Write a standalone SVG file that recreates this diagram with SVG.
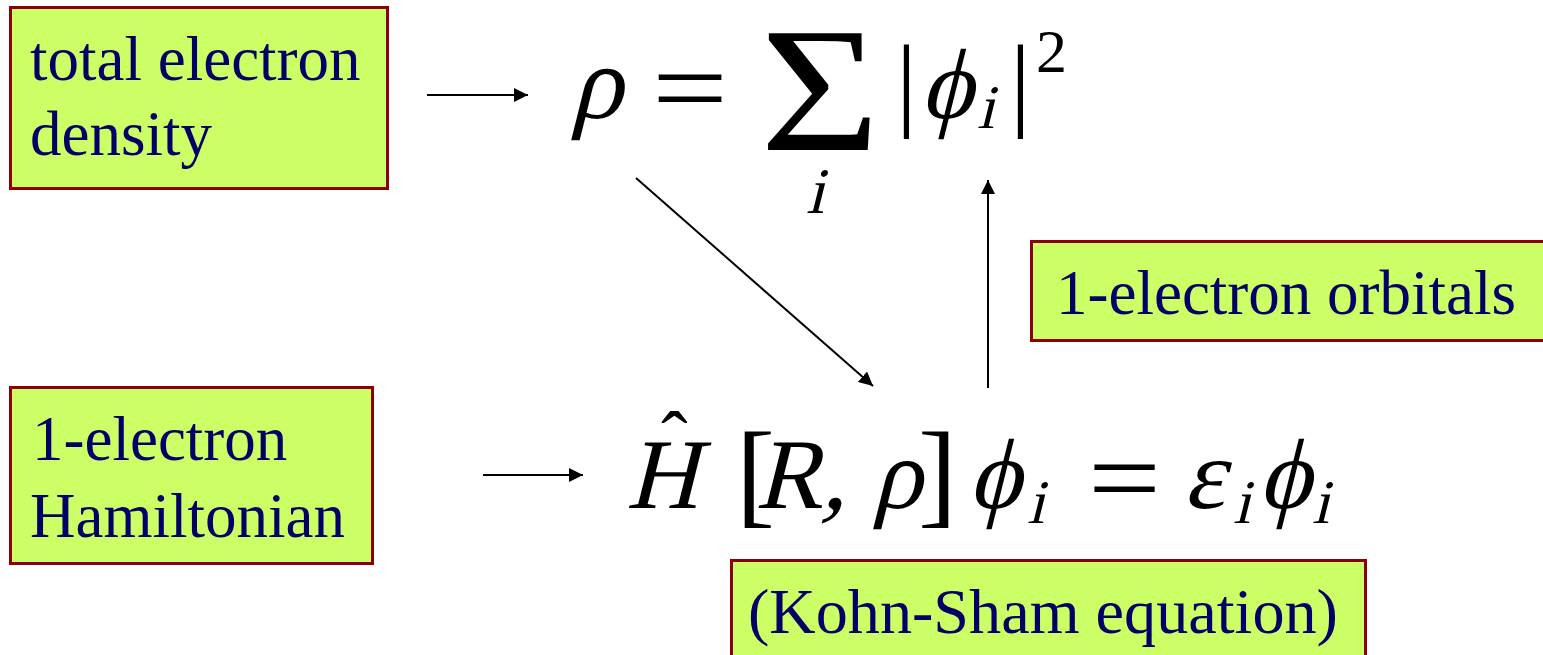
<svg xmlns="http://www.w3.org/2000/svg" width="1543" height="655" viewBox="0 0 1543 655">
<style>
.box{fill:#CCFF66;stroke:#8B0000;stroke-width:3}
.lbl{font-family:"Liberation Serif","Times New Roman",serif;font-size:63px;fill:#000066}
.m{font-family:"Liberation Serif","Times New Roman",serif;fill:#000}
.conn{stroke:#000;stroke-width:2;fill:none}
</style>
<defs>
<marker id="ah" viewBox="0 0 10 10" refX="10" refY="5" markerWidth="7" markerHeight="7" markerUnits="strokeWidth" orient="auto">
<path d="M0,0 L10,5 L0,10 Z" fill="#000"/>
</marker>
</defs>
<rect width="1543" height="655" fill="#fff"/>
<g id="connectors">
<line class="conn" x1="427" y1="95" x2="528" y2="95" marker-end="url(#ah)"/>
<line class="conn" x1="483" y1="475" x2="583" y2="475" marker-end="url(#ah)"/>
<line class="conn" x1="636" y1="178" x2="873" y2="386" marker-end="url(#ah)"/>
<line class="conn" x1="988" y1="388" x2="988" y2="180" marker-end="url(#ah)"/>
</g>
<g id="node-density">
<rect class="box" x="10.5" y="7.5" width="377" height="181"/>
<text class="lbl" x="30" y="80">total electron</text>
<text class="lbl" x="30" y="155">density</text>
</g>
<g id="node-hamiltonian">
<rect class="box" x="10.5" y="387.5" width="362" height="176"/>
<text class="lbl" x="32" y="460">1-electron</text>
<text class="lbl" x="30" y="537">Hamiltonian</text>
</g>
<g id="node-orbitals">
<rect class="box" x="1031.5" y="241.5" width="520" height="99"/>
<text class="lbl" x="1056" y="314">1-electron orbitals</text>
</g>
<g id="node-kohnsham">
<rect class="box" x="731.5" y="560.5" width="634" height="100"/>
<text class="lbl" x="748" y="633" textLength="590" lengthAdjust="spacingAndGlyphs">(Kohn-Sham equation)</text>
</g>
<g id="eq-density">
<text class="m" font-size="105" transform="translate(570,118) skewX(-14)">ρ</text>
<text class="m" x="652" y="125" font-size="110" textLength="76" lengthAdjust="spacingAndGlyphs">=</text>
<text class="m" x="760" y="150" font-size="178" textLength="120" lengthAdjust="spacingAndGlyphs">Σ</text>
<text class="m" font-size="65" transform="translate(806,213) skewX(-14)">i</text>
<text class="m" x="896" y="117" font-size="104">|</text>
<text class="m" font-size="100" transform="translate(920,118) skewX(-14)">ϕ</text>
<text class="m" font-size="62" transform="translate(977,128) skewX(-14)">i</text>
<text class="m" x="1010" y="117" font-size="104">|</text>
<text class="m" x="1036" y="72" font-size="62">2</text>
</g>
<g id="eq-kohnsham">
<text class="m" x="661" y="467" font-size="80">ˆ</text>
<text class="m" font-size="100" transform="translate(626,508) skewX(-14)">H</text>
<text class="m" x="736" y="512" font-size="117">[</text>
<text class="m" font-size="100" transform="translate(755,508) skewX(-14)">R,</text>
<text class="m" font-size="100" transform="translate(872,508) skewX(-14)">ρ</text>
<text class="m" x="918" y="512" font-size="117">]</text>
<text class="m" font-size="100" transform="translate(968,508) skewX(-14)">ϕ</text>
<text class="m" font-size="62" transform="translate(1027,523) skewX(-14)">i</text>
<text class="m" x="1088" y="515" font-size="110" textLength="73" lengthAdjust="spacingAndGlyphs">=</text>
<text class="m" font-size="100" transform="translate(1183,508) skewX(-14)">ε</text>
<text class="m" font-size="62" transform="translate(1233,523) skewX(-14)">i</text>
<text class="m" font-size="100" transform="translate(1258,508) skewX(-14)">ϕ</text>
<text class="m" font-size="62" transform="translate(1312,523) skewX(-14)">i</text>
</g>
</svg>
